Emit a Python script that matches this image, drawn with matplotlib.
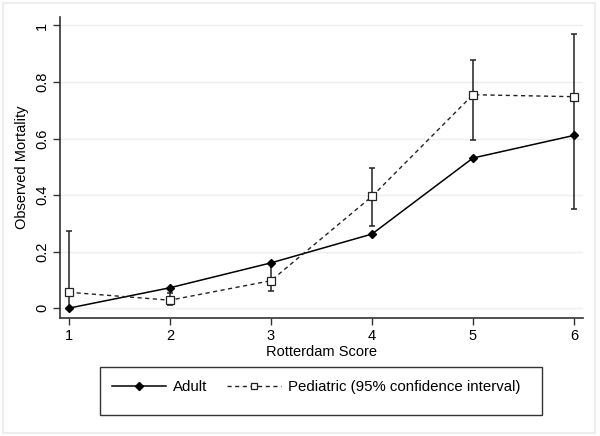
import matplotlib.pyplot as plt
from matplotlib.patches import Rectangle
from matplotlib.lines import Line2D

plt.rcParams['font.family'] = ['Liberation Sans', 'DejaVu Sans']

# DATA
scores = [1, 2, 3, 4, 5, 6]
adult = [0.0, 0.072, 0.16, 0.262, 0.531, 0.611]
pediatric = [0.056, 0.028, 0.097, 0.395, 0.755, 0.748]
ped_lower = [0.0, 0.012, 0.061, 0.291, 0.596, 0.35]
ped_upper = [0.274, 0.055, 0.16, 0.497, 0.877, 0.97]
yticks = [0, 0.2, 0.4, 0.6, 0.8, 1]
yticklabels = ["0", "0.2", "0.4", "0.6", "0.8", "1"]

fig = plt.figure(figsize=(6, 4.36), dpi=100)
ax = fig.add_axes([60/600, 1 - 318/436, 523/600, 301/436])

# grid
for t in yticks:
    ax.axhline(t, color='#eeeeee', lw=1, zorder=0)

# CI bars for pediatric
err = [[p - l for p, l in zip(pediatric, ped_lower)],
       [u - p for p, u in zip(pediatric, ped_upper)]]
ax.errorbar(scores, pediatric, yerr=err, fmt='none', ecolor='#222222',
            elinewidth=1.1, capsize=2.4, capthick=1.1, zorder=2)

ax.plot(scores, adult, color='black', lw=1.1, marker='D', ms=3.6,
        mfc='black', mec='black', zorder=3)
ax.plot(scores, pediatric, color='#222222', lw=1, ls=(0, (3, 2.5)),
        marker='s', ms=5.2, mfc='white', mec='#222222', mew=0.9, zorder=4)

ax.set_xlim(0.911, 6.09)
ax.set_ylim(-0.035, 1.03)
ax.set_xticks(scores)
ax.set_yticks(yticks)
ax.set_yticklabels(yticklabels, rotation=90, va='center')
ax.tick_params(labelsize=10.5, length=5, width=1, color='#333333', pad=3)
for s in ['top', 'right']:
    ax.spines[s].set_visible(False)
for s in ['left', 'bottom']:
    ax.spines[s].set_color('#333333')
    ax.spines[s].set_linewidth(1.2)

ax.set_xlabel("Rotterdam Score", fontsize=10.5, labelpad=1)
ax.set_ylabel("Observed Mortality", fontsize=10.5, labelpad=4)

# legend box
fig.patches.append(Rectangle((100/600, 1 - 415/436), 442/600, 48/436,
                             transform=fig.transFigure, fill=False,
                             edgecolor='#333333', lw=1))
handles = [Line2D([], [], color='black', lw=1.1, marker='D', ms=3.6),
           Line2D([], [], color='#222222', lw=1, ls=(0, (3, 2.5)), marker='s',
                  ms=5, mfc='white', mec='#222222', mew=0.9)]
fig.legend(handles, ["Adult", "Pediatric (95% confidence interval)"],
           loc='center left', bbox_to_anchor=(104/600, 1 - 387/436),
           ncol=2, frameon=False, fontsize=10.8, handlelength=3.6,
           handletextpad=0.5, columnspacing=1.3, borderpad=0)

# faint outer frame
fig.patches.append(Rectangle((3/600, 3/436), 592/600, 430/436,
                             transform=fig.transFigure, fill=False,
                             edgecolor='#eeeeee', lw=1.5))

fig.savefig("out.png", dpi=100)
